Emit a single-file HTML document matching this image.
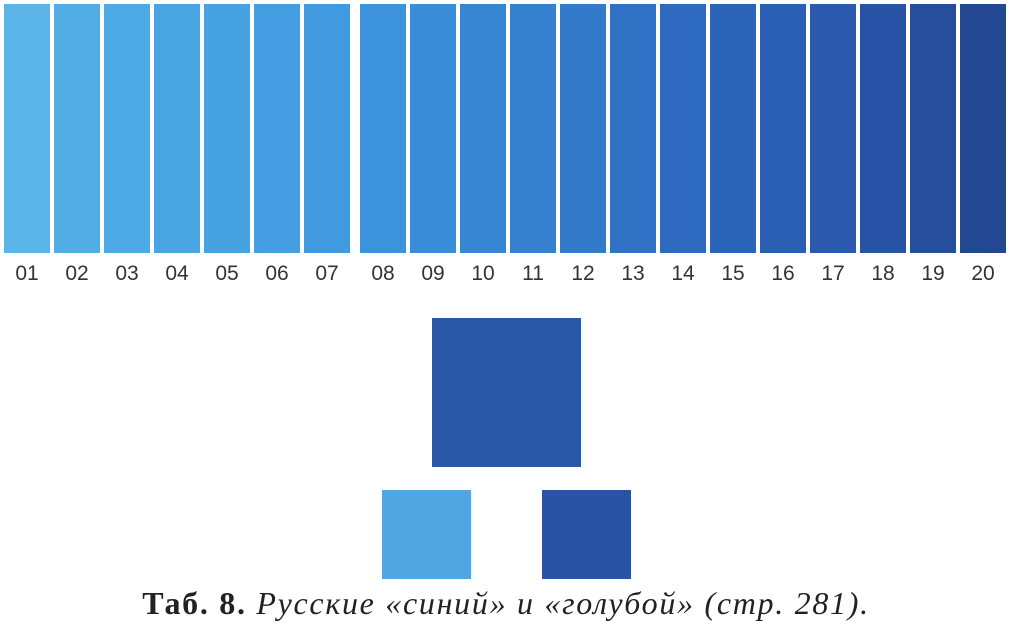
<!DOCTYPE html>
<html><head><meta charset="utf-8"><style>
body{margin:0;width:1012px;height:635px;background:#fff;position:relative;overflow:hidden;font-family:"Liberation Sans",sans-serif}
.bar{position:absolute;top:4px;height:249px;width:46px}
.lbl{position:absolute;top:262px;width:46px;text-align:center;font-size:21px;color:#333}
.sq{position:absolute}
#cap{position:absolute;left:0;width:1012px;top:585px;text-align:center;font-family:"Liberation Serif",serif;font-size:32px;letter-spacing:1.7px;color:#222}
</style></head><body>
<div id="bars"></div>
<div class="sq" style="left:432px;top:318px;width:149px;height:149px;background:#2b57a7"></div>
<div class="sq" style="left:382px;top:490px;width:89px;height:89px;background:#4fa6e1"></div>
<div class="sq" style="left:542px;top:490px;width:89px;height:89px;background:#2a53a5"></div>
<div id="cap"><b>Таб. 8.</b> <i>Русские «синий» и «голубой» (стр. 281).</i></div>
<script>
const labels=["01","02","03","04","05","06","07","08","09","10","11","12","13","14","15","16","17","18","19","20"];
const colors=["#5bb5e8","#52ade5","#4eaae4","#4aa5e3","#47a2e2","#449ee1","#4199df","#3c92db","#3a8dd8","#3786d4","#3680d0","#347acb","#3171c5","#2e6bc0","#2c64ba","#2b5fb4","#2a59ad","#2953a6","#274d9d","#244792"];
const c=document.getElementById('bars');
labels.forEach((l,i)=>{
  const x=4+i*50+(i>=7?6:0);
  const b=document.createElement('div');
  b.className='bar';b.style.left=x+'px';b.style.background=colors[i];
  
  
  c.appendChild(b);
  const t=document.createElement('div');
  t.className='lbl';t.style.left=x+'px';t.textContent=l;
  
  
  c.appendChild(t);
});
</script>
</body></html>
